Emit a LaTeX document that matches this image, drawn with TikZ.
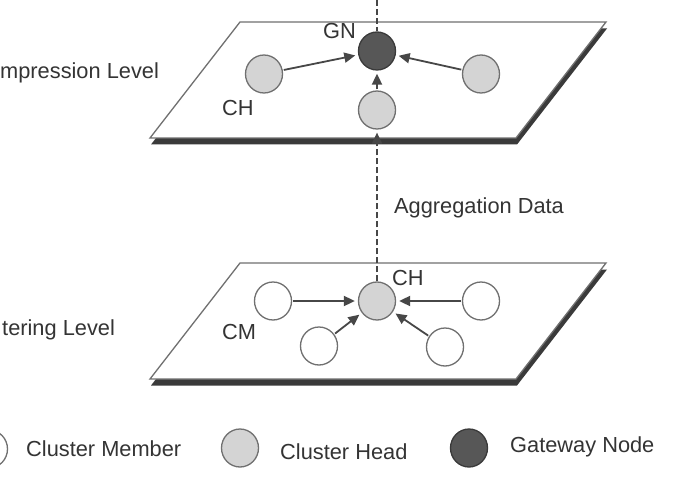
\documentclass[tikz,border=0pt]{standalone}
\usepackage{fontspec}
\setmainfont{Liberation Sans}
\usetikzlibrary{arrows.meta,shapes.geometric}

\definecolor{txt}{HTML}{343434}
\definecolor{edge}{HTML}{707070}
\definecolor{slab}{HTML}{3A3A3A}
\definecolor{headfill}{HTML}{D4D4D4}
\definecolor{gwfill}{HTML}{575757}
\definecolor{linkcol}{HTML}{474747}

\tikzset{
  lbl/.style={text=txt, inner sep=0pt, font=\fontsize{21.8}{24}\selectfont},
  nodebase/.style={ellipse, minimum width=37pt, minimum height=38pt, inner sep=0pt, line width=1.3pt},
  member/.style={nodebase, draw=edge, fill=white},
  head/.style={nodebase, draw=edge, fill=headfill},
  gateway/.style={nodebase, draw=slab, fill=gwfill},
  plane/.style={draw=edge, line width=1.3pt, fill=white, line join=miter},
  planeshadow/.style={fill=slab},
  tip/.style={-{Triangle[length=11pt,width=10pt]}},
  link/.style={draw=linkcol, line width=1.8pt, tip, shorten >=3pt, shorten <=1pt},
  updata/.style={draw=linkcol, line width=1.3pt, dash pattern=on 6pt off 3pt},
}

\begin{document}
\begin{tikzpicture}[x=1pt, y=-1pt]
  \clip (0,0) rectangle (680,500);
  \fill[white] (0,0) rectangle (680,500);

  % upper slab: compression level
  \fill[planeshadow] (241,28.5) -- (607,28.5) -- (517,144.5) -- (151,144.5) -- cycle;
  \draw[plane] (240,22) -- (606,22) -- (516,138) -- (150,138) -- cycle;

  % lower slab: clustering level
  \fill[planeshadow] (241,269.5) -- (607,269.5) -- (517,385.5) -- (151,385.5) -- cycle;
  \draw[plane] (240,263) -- (606,263) -- (516,379) -- (150,379) -- cycle;

  % level names
  \node[lbl, anchor=base west] (lvltop) at (0,79) {mpression Level};
  \node[lbl, anchor=base west] (lvlbot) at (2,335) {tering Level};

  % upper level nodes
  \node[gateway] (gn) at (377,51) {};
  \node[head] (chl) at (264,74) {};
  \node[head] (chr) at (481,74) {};
  \node[head] (chb) at (377,110) {};
  \node[lbl, anchor=base west] (gnlbl) at (323,39) {GN};
  \node[lbl, anchor=base west] (chlbl) at (222,116) {CH};

  % lower level nodes
  \node[head] (ch) at (377,301) {};
  \node[member] (cml) at (273,301) {};
  \node[member] (cmr) at (481,301) {};
  \node[member] (cmll) at (319,346) {};
  \node[member] (cmlr) at (445,347) {};
  \node[lbl, anchor=base west] (cmlbl) at (222,339) {CM};
  \node[lbl, anchor=base west] (ch2lbl) at (392,285) {CH};

  % aggregated data flowing upwards
  \coordinate (topend) at (377,0);
  \draw[updata] (topend) -- (gn.north);
  \draw[updata, tip, shorten >=3pt] (ch.north) -- (chb.south);
  \node[lbl, anchor=base west] (agg) at (394,213) {Aggregation Data};

  % links inside the upper level
  \draw[link] (chl) -- (gn);
  \draw[link] (chr) -- (gn);
  \draw[link] (chb) -- (gn);

  % links inside the lower level
  \draw[link] (cml) -- (ch);
  \draw[link] (cmr) -- (ch);
  \draw[link] (cmll) -- (ch);
  \draw[link] (cmlr) -- (ch);

  % legend
  \node[member] (kcm) at (-11,449) {};
  \node[lbl, anchor=west] (kcmt) at (26,449) {Cluster Member};
  \node[head] (kch) at (240,448) {};
  \node[lbl, anchor=west] (kcht) at (280,452) {Cluster Head};
  \node[gateway] (kgn) at (469,448) {};
  \node[lbl, anchor=west] (kgnt) at (510,447) {Gateway Node};
\end{tikzpicture}
\end{document}
